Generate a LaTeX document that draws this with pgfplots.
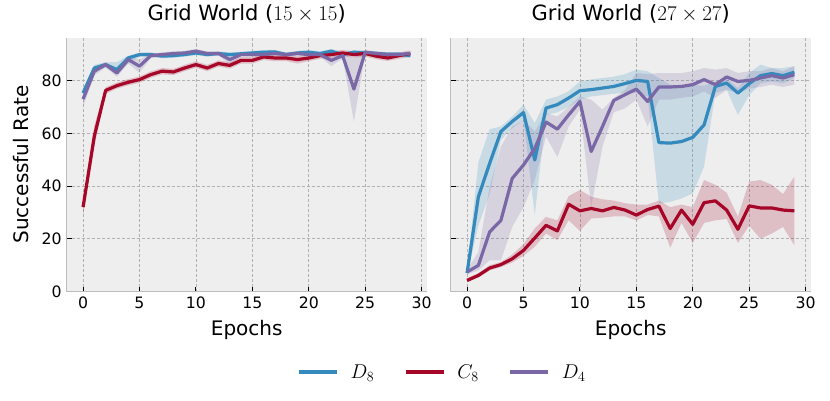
\RequirePackage{fix-cm}
\documentclass[border=0pt]{standalone}
\usepackage{fontspec}
\setmainfont{DejaVu Sans}
\usepackage{pgfplots}
\pgfplotsset{compat=1.18}
\usepackage{pgfplotstable}
\usepgfplotslibrary{fillbetween}

\definecolor{cB}{HTML}{348ABD}
\definecolor{cR}{HTML}{A60628}
\definecolor{cP}{HTML}{7A68A6}
\definecolor{bgc}{HTML}{EEEEEE}
\definecolor{gridc}{HTML}{B2B2B2}
\definecolor{spinec}{HTML}{BCBCBC}

\pgfplotstableread{
e d8 d8lo d8hi c8 c8lo c8hi d4 d4lo d4hi
0 75.3 73.5 77.0 32.0 29.0 35.0 73.0 70.0 75.0
1 84.8 83.5 86.0 59.0 55.0 63.0 83.6 82.0 85.0
2 86.1 85.0 87.0 76.3 75.0 77.5 86.1 85.0 87.0
3 84.2 82.5 87.0 78.1 77.0 79.3 82.9 81.5 84.5
4 88.6 86.5 89.5 79.4 78.2 80.6 88.0 86.5 89.0
5 89.9 89.0 90.5 80.4 79.2 81.6 85.5 83.0 88.0
6 89.9 89.1 90.7 82.3 81.1 83.5 89.5 88.5 90.2
7 89.3 88.5 90.1 83.6 82.4 84.8 89.9 89.1 90.7
8 89.5 88.7 90.3 83.3 82.1 84.5 90.3 89.5 91.1
9 89.9 89.1 90.7 84.8 83.6 86.0 90.5 89.7 91.3
10 90.5 89.7 91.3 86.1 84.9 87.3 91.2 90.4 92.0
11 89.9 89.1 90.7 84.8 83.6 86.0 90.3 89.5 91.1
12 90.3 89.5 91.1 86.5 85.3 87.7 90.3 89.5 91.1
13 89.9 89.1 90.7 85.8 84.6 87.0 88.0 86.0 89.5
14 90.2 89.4 91.0 87.7 86.5 88.9 89.9 89.1 90.7
15 90.5 89.7 91.3 87.7 86.5 88.9 89.9 89.1 90.7
16 90.8 90.0 91.6 89.0 87.8 90.2 89.9 89.1 90.7
17 90.9 90.1 91.7 88.6 87.4 89.8 90.3 89.5 91.1
18 89.9 89.1 90.7 88.6 87.4 89.8 89.9 89.1 90.7
19 90.5 89.7 91.3 88.0 86.5 89.3 90.3 89.5 91.1
20 90.8 90.0 91.6 88.6 87.4 89.8 89.9 89.1 90.7
21 90.3 89.5 91.1 89.5 88.3 90.7 89.9 89.1 90.7
22 91.2 90.4 92.0 89.9 88.7 91.1 87.7 85.5 89.0
23 89.9 89.1 90.7 90.5 89.3 91.7 89.5 88.5 90.3
24 90.8 90.0 91.6 89.9 88.7 91.1 76.8 64.5 88.5
25 90.5 89.7 91.3 90.3 89.1 91.5 90.8 90.0 91.6
26 90.3 89.5 91.1 89.3 88.1 90.5 90.3 89.5 91.1
27 90.0 89.2 90.8 88.6 87.5 89.8 89.9 89.1 90.7
28 90.0 89.2 90.8 89.5 88.3 90.7 89.9 89.1 90.7
29 89.5 88.7 90.3 90.3 89.0 91.5 90.3 89.5 91.1
}\Lt

\pgfplotstableread{
e d8 d8lo d8hi c8 c8lo c8hi d4 d4lo d4hi
0 7.0 6.0 8.0 4.2 3.5 5.0 7.4 6.5 8.3
1 35.9 25.0 49.0 6.1 5.3 7.0 9.9 8.0 15.0
2 48.6 37.0 61.6 8.9 8.0 10.0 22.6 11.8 39.7
3 60.7 57.5 62.6 10.2 9.3 11.2 27.0 11.8 55.0
4 64.5 62.0 66.4 12.4 11.0 14.0 42.9 24.5 62.6
5 67.9 65.0 70.9 15.6 13.5 18.0 48.0 32.0 65.0
6 49.9 29.0 63.9 20.3 17.0 24.0 54.3 42.3 60.7
7 69.6 67.0 72.8 25.1 22.0 28.3 64.3 58.8 67.7
8 70.9 68.0 74.0 23.0 19.5 27.0 61.6 51.0 66.4
9 73.4 70.0 76.0 33.1 27.0 36.2 67.0 62.6 70.0
10 76.2 72.8 79.7 30.6 23.0 38.5 72.1 69.0 74.0
11 76.6 74.0 80.5 31.5 27.7 36.0 53.1 32.0 72.8
12 77.2 74.5 81.0 30.6 28.0 35.0 62.6 55.0 69.0
13 77.8 75.0 81.5 31.9 28.5 34.5 72.5 68.0 73.5
14 78.9 75.5 82.5 30.9 28.5 33.5 74.7 69.5 76.5
15 80.1 75.3 84.2 29.0 27.0 33.0 76.8 72.8 82.9
16 79.7 74.0 83.6 31.1 29.0 33.0 72.1 62.6 82.5
17 56.5 33.4 81.0 32.4 28.5 34.5 77.6 72.8 82.9
18 56.3 34.0 78.5 23.9 16.6 32.0 77.6 72.8 82.9
19 56.9 35.3 78.0 30.9 26.0 33.0 77.8 73.5 82.9
20 58.5 37.2 78.5 25.5 18.4 32.0 78.5 74.0 83.6
21 63.2 47.4 78.0 33.7 26.0 42.3 80.4 75.9 84.8
22 77.8 75.3 79.7 34.4 27.0 40.5 78.5 73.5 84.2
23 79.1 76.5 81.0 30.9 27.5 37.5 81.4 76.5 84.8
24 75.3 67.0 77.2 23.6 18.4 28.5 79.7 75.3 82.9
25 78.9 74.5 82.9 32.5 25.0 41.7 80.1 77.0 83.6
26 81.9 79.0 86.1 31.7 20.0 42.3 81.0 77.6 83.6
27 82.7 79.7 84.8 31.7 22.0 40.5 81.9 78.5 84.8
28 81.9 79.0 84.8 30.9 24.5 37.0 81.0 77.6 83.6
29 83.2 81.0 85.5 30.6 17.5 43.6 82.3 78.5 85.5
}\Rt

\newcommand{\band}[5]{%
  \addplot[draw=none, forget plot, name path=#5lo] table[x=e,y=#2]{#1};
  \addplot[draw=none, forget plot, name path=#5hi] table[x=e,y=#3]{#1};
  \addplot[fill=#4, fill opacity=0.2, draw=none, forget plot] fill between[of=#5lo and #5hi];
}

\pgfplotsset{
  gw/.style={
    scale only axis, width=360pt, height=253.8pt,
    xmin=-1.45, xmax=30.45, ymin=0, ymax=96.3,
    xtick={0,5,...,30}, ytick={0,20,40,60,80},
    axis background/.style={fill=bgc},
    axis x line=bottom, axis y line=left,
    axis line style={draw=spinec, line width=1pt, -},
    tick align=inside, major tick length=5pt,
    every tick/.style={black, line width=0.9pt},
    grid=major, major grid style={gridc, dash pattern=on 3pt off 2pt, line width=0.6pt},
    tick label style={font=\fontsize{15.7}{18}\selectfont},
    /pgf/number format/assume math mode=true,
    xticklabel shift=2pt, yticklabel shift=1.5pt,
    xlabel={Epochs},
    xlabel style={at={(axis description cs:0.5,-0.175)}, anchor=base, font=\fontsize{20}{22}\selectfont},
    title style={at={(axis description cs:0.5,1.043)}, anchor=base, font=\fontsize{21}{23}\selectfont},
    every axis plot/.append style={line join=round},
  }
}

\begin{document}
\begin{tikzpicture}
\begin{axis}[gw, at={(66.7pt,108.5pt)}, anchor=south west,
  title={Grid World ($15\times15$)},
  ylabel={Successful Rate},
  ylabel style={at={(axis description cs:-0.127,0.5)}, anchor=center, font=\fontsize{20}{22}\selectfont},
  legend style={at={(1.041,-0.317)}, anchor=center, draw=none, fill=none,
    legend columns=3, font=\fontsize{20}{22}\selectfont,
    nodes={inner xsep=0pt},
    /tikz/every odd column/.append style={column sep=12pt},
    /tikz/every even column/.append style={column sep=30pt}},
  legend image code/.code={\draw[#1, line width=3.2pt] (0pt,0pt) -- (38pt,0pt);},
]
\band{\Lt}{d8lo}{d8hi}{cB}{La}
\band{\Lt}{c8lo}{c8hi}{cR}{Lb}
\band{\Lt}{d4lo}{d4hi}{cP}{Lc}
\addplot[cB, line width=3.2pt] table[x=e,y=d8]{\Lt};
\addlegendentry{$D_8$}
\addplot[cR, line width=3.2pt] table[x=e,y=c8]{\Lt};
\addlegendentry{$C_8$}
\addplot[cP, line width=3.2pt] table[x=e,y=d4]{\Lt};
\addlegendentry{$D_4$}
\end{axis}

\begin{axis}[gw, at={(450.7pt,108.5pt)}, anchor=south west,
  title={Grid World ($27\times27$)},
  yticklabels={},
]
\band{\Rt}{d8lo}{d8hi}{cB}{Ra}
\band{\Rt}{c8lo}{c8hi}{cR}{Rb}
\band{\Rt}{d4lo}{d4hi}{cP}{Rc}
\addplot[cB, line width=3.2pt] table[x=e,y=d8]{\Rt};
\addplot[cR, line width=3.2pt] table[x=e,y=c8]{\Rt};
\addplot[cP, line width=3.2pt] table[x=e,y=d4]{\Rt};
\end{axis}
\pgfresetboundingbox
\path[use as bounding box] (0pt,0pt) rectangle (830pt,400pt);
\end{tikzpicture}
\end{document}
